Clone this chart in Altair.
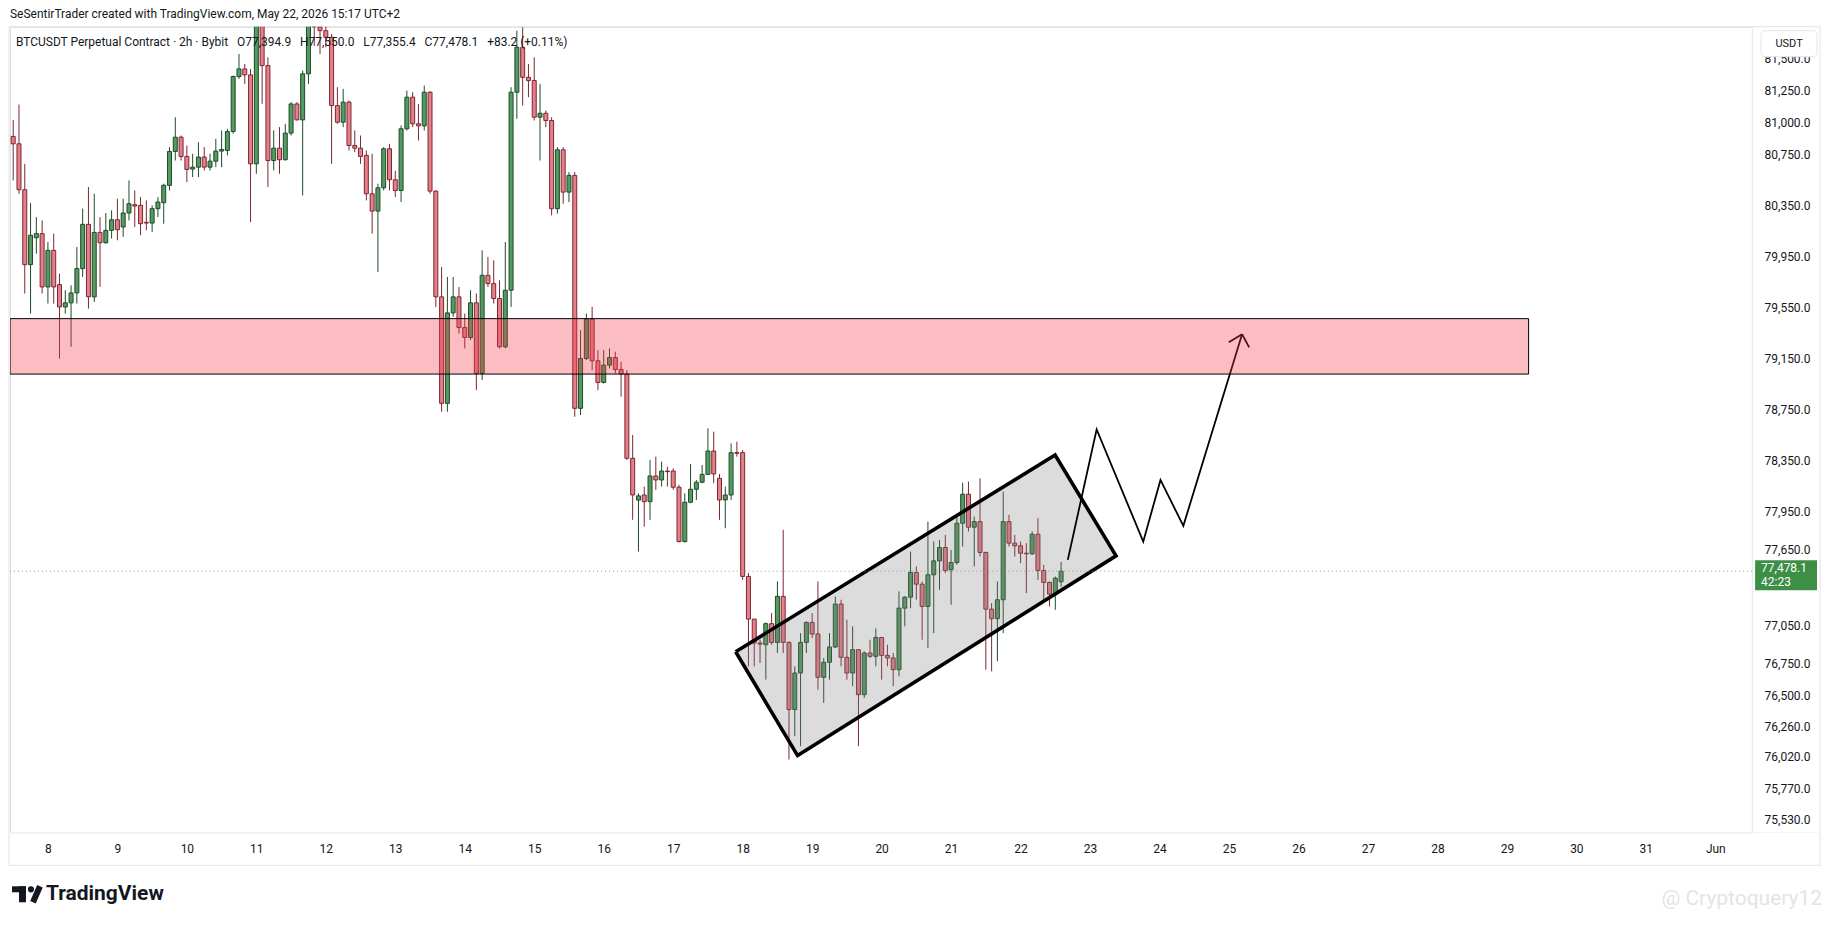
import altair as alt
import pandas as pd

# ---------------- data (2h candles, BTCUSDT) ----------------
opens = [80890, 80832, 80472, 79884, 80095, 80127, 79709, 79996, 79727, 79552,
         79584, 79662, 79853, 80200, 79631, 80137, 80056, 80153, 80236, 80179,
         80289, 80354, 80349, 80216, 80210, 80323, 80370, 80506, 80772, 80884,
         80733, 80634, 80649, 80728, 80649, 80696, 80775, 80780, 80929, 81360,
         81420, 81373, 80675, 81830, 81446, 80701, 80798, 80707, 80916, 81145,
         81020, 81381, 81772, 81750, 81720, 81668, 81132, 81002, 81159, 80819,
         80798, 80741, 80440, 80304, 80487, 80793, 80550, 80466, 80950, 81198,
         80989, 80973, 81237, 80461, 79631, 78795, 79505, 79631, 79390, 79312,
         79584, 79030, 79800, 79735, 79618, 79239, 79683, 81237, 81590, 81354,
         81328, 81041, 81072, 81015, 80323, 80785, 80453, 80584, 78756, 79147,
         79456, 79129, 78959, 79095, 79155, 79061, 79025, 78364, 78036, 78076,
         78024, 78225, 78194, 78264, 78264, 78137, 77711, 78019, 78121, 78176,
         78238, 78421, 78207, 78037, 78076, 78408, 78408, 77437, 77102, 76914,
         76901, 77066, 76919, 77280, 76919, 76392, 76679, 76919, 77076, 76985,
         76645, 76763, 76883, 77220, 76802, 76679, 76862, 76509, 76836, 76810,
         76958, 76817, 76797, 76705, 77188, 77274, 77468, 77376, 77201, 77450,
         77559, 77664, 77489, 77546, 77854, 78082, 77823, 77867, 77625, 77180,
         77105, 77254, 77867, 77698, 77677, 77619, 77614, 77768, 77483, 77390,
         77298, 77394.9]
highs = [81020, 81140, 80675, 80367, 80257, 80231, 80061, 80127, 79813, 79683,
         79722, 80022, 80323, 80493, 80440, 80257, 80289, 80310, 80401, 80401,
         80545, 80466, 80414, 80388, 80349, 80414, 80519, 80806, 81041, 80897,
         80819, 80754, 80845, 80806, 80754, 80871, 80937, 80950, 81368, 81537,
         81459, 81420, 81900, 81900, 81511, 80937, 80963, 80989, 81159, 81159,
         81407, 81900, 81880, 81850, 81800, 81694, 81276, 81263, 81172, 80937,
         80897, 80780, 80754, 80519, 80806, 80832, 80620, 80976, 81250, 81237,
         81145, 81289, 81245, 80466, 79866, 79787, 79787, 79709, 79500, 79683,
         79657, 79996, 79944, 79918, 79761, 80061, 81276, 81720, 81746, 81459,
         81511, 81302, 81093, 81041, 80806, 80806, 80610, 80610, 79369, 79500,
         79552, 79213, 79213, 79226, 79200, 79121, 79056, 78547, 78089, 78142,
         78351, 78377, 78338, 78298, 78285, 78155, 78089, 78319, 78194, 78311,
         78599, 78573, 78241, 78142, 78481, 78494, 78429, 77463, 77102, 76940,
         77076, 77149, 77397, 77802, 76927, 76731, 76992, 77084, 77149, 77397,
         76797, 76992, 77280, 77254, 77097, 77045, 76862, 76849, 76940, 77029,
         76961, 76901, 76836, 77319, 77280, 77632, 77515, 77397, 77867, 77711,
         77724, 77763, 77645, 77920, 78173, 78181, 77907, 78207, 77632, 77228,
         77397, 78103, 77920, 77763, 77711, 77698, 77789, 77894, 77528, 77397,
         77437, 77550.0]
lows = [80545, 80440, 79657, 79500, 79970, 79657, 79578, 79578, 79147, 79500,
        79239, 79578, 79787, 79539, 79591, 79709, 80048, 80088, 80075, 80101,
        80231, 80179, 80114, 80153, 80140, 80257, 80205, 80466, 80701, 80701,
        80532, 80571, 80571, 80623, 80623, 80649, 80649, 80741, 80911, 81341,
        81302, 80218, 80597, 81146, 80493, 80623, 80597, 80701, 80897, 81015,
        80427, 81302, 81600, 81537, 81590, 80675, 80989, 80963, 80780, 80767,
        80675, 80388, 80127, 79826, 80466, 80466, 80414, 80375, 80937, 80963,
        80858, 80937, 80440, 79552, 78729, 78729, 79474, 79343, 79226, 79291,
        78899, 78978, 79709, 79578, 79226, 79226, 79552, 81028, 81132, 81198,
        81015, 80701, 80963, 80270, 80284, 80362, 80375, 78690, 78703, 79134,
        79056, 78899, 78951, 79069, 79030, 78847, 78351, 77881, 77632, 77828,
        77881, 78116, 78142, 78142, 78116, 77703, 77703, 78011, 78037, 78168,
        78233, 78168, 77881, 77815, 78037, 78377, 77410, 76731, 76731, 76757,
        76627, 76901, 76836, 76836, 76000, 76183, 76104, 76836, 76953, 76548,
        76444, 76627, 76875, 76731, 76627, 76575, 76104, 76483, 76797, 76731,
        76627, 76731, 76575, 76653, 77045, 77188, 77254, 76940, 76875, 76992,
        77332, 77463, 77214, 77528, 77672, 77789, 77515, 77593, 76705, 76692,
        76770, 76992, 77672, 77593, 77541, 77306, 77606, 77410, 77254, 77201,
        77175, 77355.4]
closes = [80832, 80472, 79884, 80114, 80127, 79709, 79996, 79709, 79552, 79584,
          79662, 79853, 80200, 79631, 80137, 80056, 80153, 80236, 80158, 80289,
          80362, 80344, 80205, 80210, 80323, 80375, 80506, 80772, 80884, 80733,
          80631, 80649, 80728, 80649, 80696, 80775, 80788, 80929, 81360, 81420,
          81373, 80675, 81830, 81446, 80701, 80798, 80707, 80916, 81145, 81020,
          81381, 81772, 81750, 81720, 81668, 81132, 81002, 81159, 80819, 80798,
          80733, 80440, 80304, 80487, 80793, 80550, 80466, 80950, 81198, 80989,
          80973, 81237, 80461, 79631, 78795, 79505, 79631, 79390, 79312, 79584,
          79030, 79800, 79735, 79618, 79239, 79683, 81237, 81590, 81354, 81328,
          81041, 81072, 81015, 80323, 80785, 80453, 80584, 78756, 79147, 79456,
          79129, 78959, 79095, 79155, 79061, 79025, 78364, 78076, 78069, 78024,
          78225, 78194, 78264, 78259, 78137, 77711, 78019, 78121, 78176, 78238,
          78421, 78241, 78037, 78076, 78408, 78403, 77437, 77102, 76914, 76906,
          77066, 76919, 77280, 76919, 76392, 76679, 76919, 77076, 76985, 76645,
          76763, 76883, 77220, 76802, 76679, 76862, 76509, 76836, 76810, 76958,
          76817, 76797, 76705, 77188, 77274, 77468, 77376, 77201, 77450, 77559,
          77664, 77483, 77546, 77854, 78082, 77823, 77867, 77625, 77180, 77105,
          77254, 77867, 77698, 77677, 77619, 77614, 77768, 77483, 77390, 77298,
          77423, 77478.1]

first_candle = "2026-05-07 12:00"

# y-axis labels (price scale)
price_ticks = [81500, 81250, 81000, 80750, 80350, 79950, 79550, 79150, 78750,
               78350, 77950, 77650, 77050, 76750, 76500, 76260, 76020, 75770, 75530]

# supply zone
zone_start = "2026-05-07T10:54:00"
zone_end = "2026-05-29T07:30:00"
zone_top, zone_bottom = 79460, 79025

# rising channel corners (left, top, right, bottom)
chan_t = ["2026-05-17T21:35:00", "2026-05-22T11:56:00", "2026-05-23T08:59:00", "2026-05-18T18:58:00"]
chan_p = [76846, 78390, 77598, 76031]

# projected path
path_t = ["2026-05-22T16:19:00", "2026-05-23T02:17:00", "2026-05-23T18:23:00",
          "2026-05-24T00:20:00", "2026-05-24T08:14:00", "2026-05-25T04:31:00"]
path_p = [77567, 78591, 77710, 78194, 77834, 79338]
arrow_end_t = ["2026-05-24T23:56:00", "2026-05-25T06:58:00"]
arrow_end_p = [79275, 79234]

last_price = 77478.1
countdown = "42:23"
SP = " \u00a0\u00a0"
header = ("BTCUSDT Perpetual Contract · 2h · Bybit" + SP + "O77,394.9" + SP + "H77,550.0" + SP +
          "L77,355.4" + SP + "C77,478.1" + SP + "+83.2 (+0.11%)")
attribution = "SeSentirTrader created with TradingView.com, May 22, 2026 15:17 UTC+2"

# ---------------- tables ----------------
times = pd.date_range(first_candle, periods=len(opens), freq="2h").strftime("%Y-%m-%dT%H:%M:%S").tolist()
candles = pd.DataFrame({"t": times, "open": opens, "high": highs, "low": lows, "close": closes})
candles["dir"] = ["up" if c >= o else "down" for o, c in zip(opens, closes)]

ct = [pd.Timestamp(s) for s in chan_t]
def on_edge(a, b, t):
    f = (t - ct[a]) / (ct[b] - ct[a])
    return chan_p[a] + f * (chan_p[b] - chan_p[a])
L, T, R, B = 0, 1, 2, 3
chan_area = pd.DataFrame({
    "t": [chan_t[L], chan_t[B], chan_t[T], chan_t[R]],
    "up": [chan_p[L], on_edge(L, T, ct[B]), chan_p[T], chan_p[R]],
    "lo": [chan_p[L], chan_p[B], on_edge(B, R, ct[T]), chan_p[R]],
})
chan_line = pd.DataFrame({"t": chan_t + [chan_t[0]], "p": chan_p + [chan_p[0]], "o": list(range(5))})
path = pd.DataFrame({"t": path_t, "p": path_p, "o": list(range(len(path_t)))})
arrow = pd.DataFrame({"t": [path_t[-1]] * 2, "p": [path_p[-1]] * 2, "t2": arrow_end_t, "p2": arrow_end_p})
zone = pd.DataFrame({"t": [zone_start], "t2": [zone_end], "top": [zone_top], "bot": [zone_bottom]})

# ---------------- scales / axes ----------------
W, H = 1745, 807
FONT = "Roboto"
TXT = "#131722"
xscale = alt.Scale(domain=[alt.DateTime(year=2026, month=5, date=7, hours=10, minutes=54),
                           alt.DateTime(year=2026, month=6, date=1, hours=12, minutes=43)],
                   padding=0)
yscale = alt.Scale(domain=[75428, 81751], nice=False, zero=False, padding=0)
xaxis = alt.Axis(title=None, tickCount={"interval": "day", "step": 1},
                 labelExpr="date(datum.value) == 1 ? 'Jun' : timeFormat(datum.value, '%-d')",
                 domain=False, ticks=False, grid=False, labelFontSize=12, labelColor=TXT,
                 labelFont=FONT, labelPadding=11, labelOverlap=False, labelFlush=False)
yaxis = alt.Axis(orient="right", title=None, values=price_ticks, format=",.1f",
                 domain=False, ticks=False, grid=False, labelFontSize=12, labelColor=TXT,
                 labelFont=FONT, labelPadding=12, labelAlign="left", labelOverlap=False,
                 labelFlush=False)

def X(f):
    return alt.X(f, type="temporal", scale=xscale, axis=xaxis)
def Y(f):
    return alt.Y(f, type="quantitative", scale=yscale, axis=yaxis)

dir_scale_fill = alt.Scale(domain=["up", "down"], range=["#559a61", "#e3808a"])
dir_scale_line = alt.Scale(domain=["up", "down"], range=["#1d4a28", "#7d2530"])

one = pd.DataFrame({"a": [0]})

# ---------------- layers ----------------
frame = alt.Chart(one).mark_rect(
    fillOpacity=0, stroke="#e0e3eb", strokeWidth=1
).encode(x=alt.value(-1), x2=alt.value(1813), y=alt.value(0), y2=alt.value(840))
sep_v = alt.Chart(one).mark_rule(color="#f0f3fa").encode(
    x=alt.value(W), y=alt.value(0), y2=alt.value(H))
sep_h = alt.Chart(one).mark_rule(color="#f0f3fa").encode(
    x=alt.value(-1), x2=alt.value(1813), y=alt.value(H))

wicks = alt.Chart(candles).mark_rule(strokeWidth=1, clip=True).encode(
    x=X("t"), y=Y("low"), y2=alt.Y2("high"),
    color=alt.Color("dir:N", scale=dir_scale_line, legend=None))
bodies = alt.Chart(candles).mark_bar(size=4, strokeWidth=1, clip=True).encode(
    x=X("t"), y=Y("open"), y2=alt.Y2("close"),
    fill=alt.Fill("dir:N", scale=dir_scale_fill, legend=None),
    stroke=alt.Stroke("dir:N", scale=dir_scale_line, legend=None))

chan_fill = alt.Chart(chan_area).mark_area(color="#7f7f7f", opacity=0.27, clip=True).encode(
    x=X("t"), y=Y("up"), y2=alt.Y2("lo"))
chan_edge = alt.Chart(chan_line).mark_line(color="#000000", strokeWidth=3.6, strokeJoin="miter", clip=True).encode(
    x=X("t"), y=Y("p"), order="o:Q")
path_line = alt.Chart(path).mark_line(color="#000000", strokeWidth=1.8, clip=True).encode(
    x=X("t"), y=Y("p"), order="o:Q")
arrow_head = alt.Chart(arrow).mark_rule(color="#000000", strokeWidth=1.8, clip=True).encode(
    x=X("t"), y=Y("p"), x2=alt.X2("t2"), y2=alt.Y2("p2"))
zone_rect = alt.Chart(zone).mark_rect(fill="#f23645", fillOpacity=0.33, stroke="#000000",
                                      strokeWidth=1, clip=True).encode(
    x=X("t"), x2=alt.X2("t2"), y=Y("top"), y2=alt.Y2("bot"))

price_df = pd.DataFrame({"p": [last_price]})
price_line = alt.Chart(price_df).mark_rule(color="#9598a1", strokeDash=[1, 3], strokeWidth=1).encode(
    x=alt.value(0), x2=alt.value(W), y=Y("p"))
price_box = alt.Chart(price_df).mark_rule(color="#3c8f45", strokeWidth=30, yOffset=4).encode(
    x=alt.value(W + 3), x2=alt.value(W + 65), y=Y("p"))
price_txt = alt.Chart(price_df).mark_text(align="left", baseline="middle", dy=-3, fontSize=12,
                                          font=FONT, color="#ffffff").encode(
    x=alt.value(W + 9), y=Y("p"), text=alt.Text("p:Q", format=",.1f"))
count_txt = alt.Chart(price_df).mark_text(align="left", baseline="middle", dy=11, fontSize=12,
                                          font=FONT, color="#ffffff").encode(
    x=alt.value(W + 9), y=Y("p"), text=alt.value(countdown))

usdt_box = alt.Chart(one).mark_rect(
    fill="#ffffff", stroke="#e0e3eb", cornerRadius=4).encode(
    x=alt.value(W + 9), x2=alt.value(W + 65), y=alt.value(4), y2=alt.value(30))
usdt_txt = alt.Chart(one).mark_text(
    fontSize=11, font=FONT, color=TXT, align="center", baseline="middle").encode(
    x=alt.value(W + 37), y=alt.value(17), text=alt.value("USDT"))

header_txt = alt.Chart(one).mark_text(
    fontSize=12, font=FONT, color=TXT, align="left", baseline="middle").encode(
    x=alt.value(6), y=alt.value(15), text=alt.value(header))
attr_txt = alt.Chart(one).mark_text(
    fontSize=12, font=FONT, color=TXT, align="left", baseline="middle").encode(
    x=alt.value(0), y=alt.value(-13), text=alt.value(attribution))

# TradingView logo (T, dot, slash) and wordmark
logo_bar = alt.Chart(one).mark_rect(color=TXT).encode(
    x=alt.value(2), x2=alt.value(16), y=alt.value(861), y2=alt.value(867))
logo_stem = alt.Chart(one).mark_rect(color=TXT).encode(
    x=alt.value(9), x2=alt.value(16), y=alt.value(861), y2=alt.value(877))
logo_dot = alt.Chart(one).mark_point(filled=True, color=TXT, size=38, opacity=1).encode(
    x=alt.value(21), y=alt.value(864))
logo_slash = alt.Chart(one).mark_rule(color=TXT, strokeWidth=6).encode(
    x=alt.value(30), x2=alt.value(23), y=alt.value(861), y2=alt.value(877))
logo_txt = alt.Chart(one).mark_text(
    fontSize=21, font=FONT, fontWeight="bold", color=TXT, align="left", baseline="middle").encode(
    x=alt.value(36), y=alt.value(869), text=alt.value("TradingView"))
watermark = alt.Chart(one).mark_text(
    fontSize=21, font=FONT, color="#e4e4e4", align="right", baseline="middle").encode(
    x=alt.value(1815), y=alt.value(874), text=alt.value("@ Cryptoquery12"))

chart = alt.layer(
    frame, sep_v, sep_h,
    wicks, bodies, chan_fill, chan_edge, path_line, arrow_head, zone_rect,
    price_line, price_box, price_txt, count_txt, usdt_box, usdt_txt,
    header_txt, attr_txt, logo_bar, logo_stem, logo_dot, logo_slash, logo_txt, watermark,
).properties(
    width=W, height=H,
    padding={"left": 2, "top": 18, "right": 75, "bottom": 88},
    autosize=alt.AutoSizeParams(type="none"),
    background="#ffffff",
).configure_view(stroke=None).configure(font=FONT)

chart.save("out.html", embed_options={"renderer": "svg", "actions": False})
